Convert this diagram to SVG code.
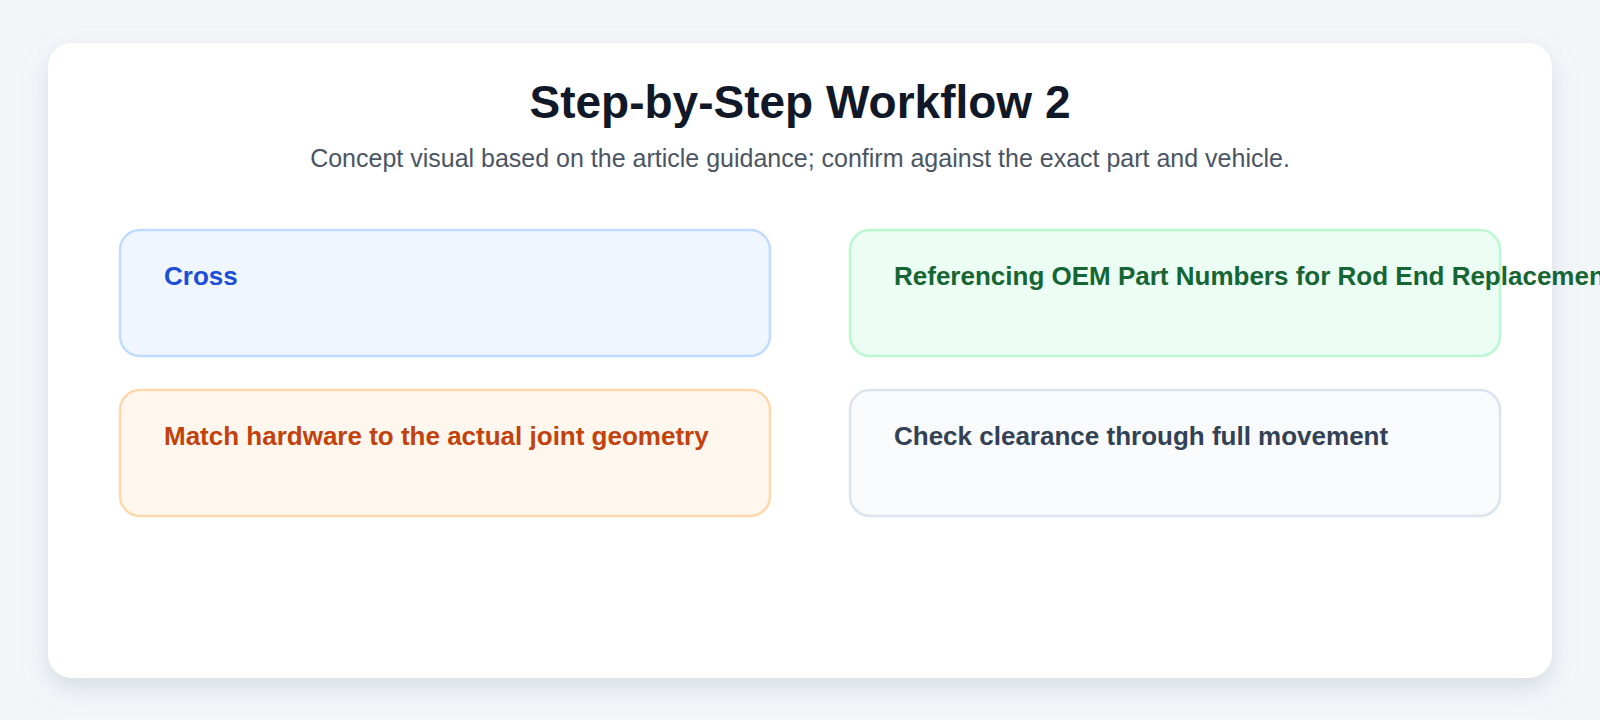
<svg xmlns="http://www.w3.org/2000/svg" width="1600" height="720" viewBox="0 0 1600 720">
<defs>
<filter id="sh" x="-10%" y="-10%" width="120%" height="130%"><feDropShadow dx="0" dy="10" stdDeviation="12" flood-color="#94a3b8" flood-opacity="0.3"/></filter>
<style>
.t{font-family:"Liberation Sans",Arial,sans-serif;font-weight:bold;font-size:26px}
.box{stroke-width:2.5}
</style>
</defs>
<rect width="1600" height="720" fill="#f3f6f9"/>
<rect x="48" y="43" width="1504" height="635" rx="24" fill="#ffffff" filter="url(#sh)"/>
<text x="800" y="118" text-anchor="middle" font-family="Liberation Sans,Arial,sans-serif" font-weight="bold" font-size="46" fill="#111827">Step-by-Step Workflow 2</text>
<text x="800" y="167" text-anchor="middle" font-family="Liberation Sans,Arial,sans-serif" font-size="25" fill="#4b5563">Concept visual based on the article guidance; confirm against the exact part and vehicle.</text>
<g id="node1"><rect class="box" x="120" y="230" width="650" height="126" rx="20" fill="#eff6ff" stroke="#bfdbfe"/><text class="t" x="164" y="285" fill="#1d4ed8">Cross</text></g>
<g id="node2"><rect class="box" x="850" y="230" width="650" height="126" rx="20" fill="#ecfdf3" stroke="#bbf7d0"/><text class="t" x="894" y="285" fill="#166534">Referencing OEM Part Numbers for Rod End Replacement</text></g>
<g id="node3"><rect class="box" x="120" y="390" width="650" height="126" rx="20" fill="#fff7ed" stroke="#fed7aa"/><text class="t" x="164" y="445" fill="#c2410c">Match hardware to the actual joint geometry</text></g>
<g id="node4"><rect class="box" x="850" y="390" width="650" height="126" rx="20" fill="#f8fafc" stroke="#dbe3ee"/><text class="t" x="894" y="445" fill="#334155">Check clearance through full movement</text></g>
<g id="connectors"/>
</svg>
